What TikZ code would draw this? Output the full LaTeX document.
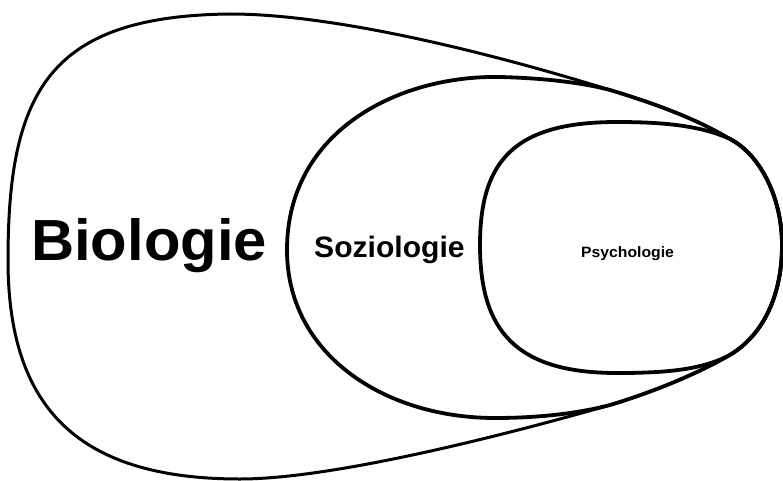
\documentclass[tikz,border=0pt]{standalone}
\usepackage{fontspec}
\setmainfont{Liberation Sans}
\begin{document}
\begin{tikzpicture}[x=1pt,y=-1pt,
  outerline/.style={line width=3pt,line join=round},
  innerline/.style={line width=3.8pt,line join=round},
  label/.style={inner sep=0pt,anchor=base west,font=\bfseries}]
\useasboundingbox (0,0) rectangle (783,481);
\fill[white] (0,0) rectangle (783,481);

% points where the curves meet and run together
\coordinate (mTop)  at (610,90);
\coordinate (mBot)  at (610,405);
\coordinate (iTop)  at (728,138);
\coordinate (iBot)  at (728,356);
\coordinate (east)  at (782,245);

% Biologie (outer region)
\draw[outerline] (8,260) .. controls (8,90) and (50,16) .. (230,14)
  .. controls (350,14) and (530,65) .. (mTop)
  .. controls (650,102) and (695,118) .. (iTop)
  .. controls (758,152) and (782,195) .. (east)
  .. controls (782,300) and (760,338) .. (iBot)
  .. controls (695,375) and (650,393) .. (mBot)
  .. controls (530,428) and (340,479) .. (240,479)
  .. controls (80,479) and (8,410) .. (8,260) -- cycle;

% Soziologie (middle region)
\draw[innerline] (287,250) .. controls (287,130) and (400,75) .. (500,77)
  .. controls (540,78) and (580,82) .. (mTop)
  .. controls (650,102) and (695,118) .. (iTop)
  .. controls (758,152) and (782,195) .. (east)
  .. controls (782,300) and (760,338) .. (iBot)
  .. controls (695,375) and (650,393) .. (mBot)
  .. controls (580,413) and (540,418) .. (495,418)
  .. controls (385,418) and (287,355) .. (287,250) -- cycle;

% Psychologie (inner region)
\draw[innerline] (480,245) .. controls (480,160) and (515,122) .. (617,122)
  .. controls (665,122) and (700,126) .. (iTop)
  .. controls (758,152) and (782,195) .. (east)
  .. controls (782,300) and (760,338) .. (iBot)
  .. controls (700,370) and (665,373) .. (617,373)
  .. controls (515,373) and (480,330) .. (480,245) -- cycle;

\node[label,xscale=1.03,font=\bfseries\fontsize{58}{60}\selectfont] (bio) at (31,260) {Biologie};
\node[label,xscale=1.02,font=\bfseries\fontsize{29.5}{32}\selectfont] (soz) at (314,257) {Soziologie};
\node[label,xscale=1.05,font=\bfseries\fontsize{15}{17}\selectfont] (psy) at (581,257) {Psychologie};
\end{tikzpicture}
\end{document}
